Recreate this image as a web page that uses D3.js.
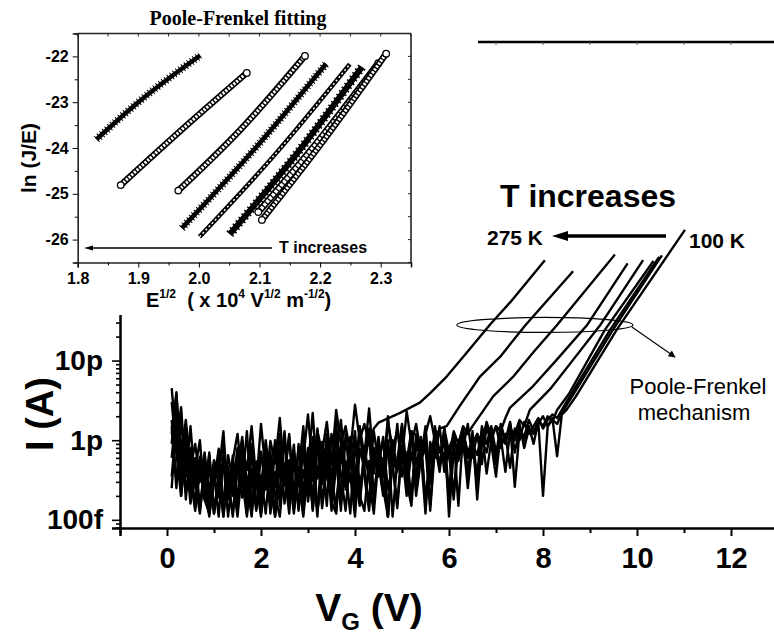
<!DOCTYPE html>
<html>
<head>
<meta charset="utf-8">
<script src="https://cdn.jsdelivr.net/npm/d3@7"></script>
<style>
  body { margin: 0; background: #fff; }
  svg { display: block; }
  .b { font-family: Arial, "Liberation Sans", sans-serif; font-weight: bold; }
</style>
</head>
<body>
<svg id="chart" width="774" height="639"></svg>
<script>
// ---- main plot: I(A) vs VG, noise part sampled every 0.1 V starting at 0.1 V (values in fA)
const vStart = 0.1, vStep = 0.1
const noise275 = [1200,3800,600,1800,450,900,300,700,220,560,380,1300,180,640,150,880,420,1500,300,720,240,980,510,1900,350,1100,200,820,600,2100,420,1300,700,1700,500,2400,900,1500,700,2800,1000,1600,900,1400]
const noise250 = [4500,900,2600,350,1500,250,620,180,480,120,390,900,210,560,1200,320,110,700,280,1600,400,140,850,350,1300,240,600,130,950,460,2200,330,780,150,1200,560,1800,380,900,260,1500,640,2500,480,1100,350,1700,800,1300,600,2300,900,1600,700,1200,2000,1000,1400]
const noise225 = [250,1800,320,700,200,450,130,380,160,300,600,110,420,250,800,190,350,110,520,240,1000,300,120,640,280,420,120,900,230,520,140,1400,300,700,130,480,850,260,1100,400,150,750,330,1300,500,200,900,420,1600,350,700,180,1200,550,950,300,1500,700,1100,600,1300,900,1500,1200]
const noise200 = [1800,300,1000,220,550,140,400,230,650,130,330,110,460,200,380,700,120,300,540,210,850,260,110,480,360,1200,160,420,120,600,310,900,140,460,250,1100,380,130,640,300,1400,450,160,800,350,600,110,1000,420,700,200,1300,500,900,180,650,1100,450,1400,700,220,1000,800,1600,600,1200,900,1700,1100,1500,1300,1900]
const noise175 = [600,2400,450,1300,280,170,500,260,110,350,190,600,240,120,420,1100,230,380,130,700,310,480,110,950,270,560,150,380,1500,200,620,130,440,900,300,1700,160,540,360,110,780,450,1200,200,600,350,2000,480,160,850,550,1300,250,700,120,950,600,1500,400,800,1100,150,1300,700,1000,350,1500,900,1200,650,1600,1000,1400,1200,1800,1500]
const noise150 = [3000,700,200,900,350,130,480,210,700,120,280,520,110,390,180,850,140,440,300,110,560,260,1000,150,400,120,680,330,180,800,130,470,280,1200,350,140,620,420,120,950,280,520,1400,170,700,380,1000,110,560,1600,420,200,900,650,1200,130,800,500,1100,700,180,950,1300,600,1000,250,1200,900,1500,700,1100,400,1300,1000,1600,800,1400,1200,1800,1500,2000,1700]
const noise125 = [900,4000,380,1500,250,600,150,420,120,300,780,170,350,110,600,270,1300,150,480,120,330,720,200,110,500,290,880,140,420,200,1100,130,380,600,170,120,750,320,480,1300,200,130,550,380,900,250,110,640,450,1500,220,700,350,1100,160,600,900,400,1400,110,750,550,1100,250,900,650,1300,380,1000,1500,800,1200,450,1400,1000,1700,1200,1500,1900,1400,1800,2100,1900]
const noise110 = [350,1600,200,700,160,420,1000,180,120,500,280,140,650,310,110,440,190,900,140,360,120,560,260,1200,160,420,130,330,700,170,500,110,950,360,200,580,130,1200,300,450,160,850,330,120,600,1000,240,480,140,800,420,1300,200,560,800,150,1000,480,700,200,1200,600,900,350,1300,180,1000,700,1400,500,1100,900,1600,260,1300,1000,1500,900,1700,200,1500,1800,1600]
const noise100 = [1500,250,2200,180,800,300,120,550,160,380,110,640,220,420,140,1000,300,120,500,180,780,120,400,220,1100,150,620,330,110,460,200,1300,160,520,380,130,870,240,600,170,1500,350,130,700,480,1100,110,550,400,1300,300,150,900,600,1500,280,800,500,1200,200,1000,700,1400,400,900,1200,500,1500,900,350,1300,1000,1700,700,1400,1100,1800,1300,1600,2000,1500,1900,630,2100]

// Poole-Frenkel branch of each curve: [VG (V), I (pA)]
const rise275 = [[4.5,1.66],[4.96,2.2],[5.38,2.96],[5.6,3.9],[5.95,6.3],[6.38,12.6],[6.87,28.2],[7.3,53.7],[8.04,182]]
const rise250 = [[5.95,1.5],[6.23,2.7],[6.66,6.3],[7.09,11.2],[7.62,27.5],[8.64,132]]
const rise225 = [[6.5,1.5],[6.94,3.55],[7.37,6.31],[7.79,12.6],[8.29,27.5],[9.53,214]]
const rise200 = [[7.3,2.57],[7.79,4.79],[8.29,10.2],[8.93,27.5],[9.8,166]]
const rise175 = [[7.72,2.4],[8.15,4.37],[8.64,10.2],[9.21,27.5],[10.13,182]]
const rise150 = [[8.3,2.4],[8.55,3.8],[9.32,24.5],[10.35,178]]
const rise125 = [[8.4,2.4],[8.6,3.8],[9.43,24.5],[10.47,200]]
const rise110 = [[8.4,2.2],[8.65,3.8],[9.49,24.5],[10.53,209]]
const rise100 = [[8.5,2.4],[8.7,3.55],[9.57,24.5],[11.02,437]]

const noiseSets = [noise275,noise250,noise225,noise200,noise175,noise150,noise125,noise110,noise100]
const riseSets = [rise275,rise250,rise225,rise200,rise175,rise150,rise125,rise110,rise100]

const xTicksMain = d3.range(-1, 14)
// only these decades are visible, the rest sits behind the inset
const yLabelsMain = {"-13":"100f","-12":"1p","-11":"10p"}

// ---- inset: Poole-Frenkel fitting, ln(J/E) vs E^1/2, knots
const pfX = [
  [1.831,1.9,2.002],
  [1.871,1.97,2.079],
  [1.966,2.07,2.175],
  [1.972,2.09,2.21],
  [2.001,2.125,2.249],
  [2.051,2.16,2.269],
  [2.098,2.2,2.296],
  [2.104,2.205,2.309]
]
const pfY = [
  [-23.81,-23.0,-21.98],
  [-24.81,-23.62,-22.36],
  [-24.93,-23.58,-21.99],
  [-25.75,-24.05,-22.16],
  [-25.94,-24.15,-22.17],
  [-25.88,-24.15,-22.23],
  [-25.4,-23.8,-22.15],
  [-25.57,-23.85,-21.94]
]
const pfMarker = ["star","circle","circle","star","small","triangle","square","circle"]

const svg = d3.select("#chart")

// ================= main plot =================
const x = d3.scaleLinear().domain([-1, 13]).range([120, 778])
const y = d3.scaleLog().domain([7.9e-14, 1e-7]).range([528, 42])

const line = d3.line().x(d => x(d[0])).y(d => y(d[1]))

const curves = noiseSets.map((n, k) => {
  let pts = n.map((fA, i) => [vStart + i*vStep, fA*1e-15])
  riseSets[k].forEach(d => pts.push([d[0], d[1]*1e-12]))
  return pts
})

svg.append("g").selectAll("path").data(curves).enter().append("path")
  .attr("d", line)
  .attr("fill", "none").attr("stroke", "#000").attr("stroke-width", 2.4)
  .attr("stroke-linejoin", "round")

// x axis
const gx = svg.append("g").attr("transform", `translate(0,${y.range()[0]})`)
  .call(d3.axisBottom(x).tickValues(xTicksMain).tickSizeOuter(0).tickSize(8).tickPadding(11)
    .tickFormat(d => (d >= 0 && d % 2 === 0) ? d : ""))
gx.select(".domain").attr("stroke-width", 2.5)
gx.selectAll(".tick line").attr("y2", d => d % 2 === 0 ? 8 : 5).attr("stroke-width", 2)
gx.selectAll("text").attr("class", "b").attr("font-size", 29).attr("fill", "#000")
gx.selectAll("text").filter(function() { return this.textContent === "" }).remove()

// y axis (log)
let yTicks = []
for (let e = -14; e <= -7; e++) for (let m = 1; m <= 9; m++) {
  const v = +(m + "e" + e)
  if (v >= y.domain()[0] && v <= y.domain()[1]) yTicks.push({v: v, m: m, e: e})
}
const gy = svg.append("g").attr("transform", `translate(${x.range()[0]},0)`)
  .call(d3.axisLeft(y).tickValues(yTicks.map(d => d.v)).tickSizeOuter(0).tickSize(8).tickPadding(9)
    .tickFormat((d, i) => (yTicks[i].m === 1 && yLabelsMain[yTicks[i].e]) || ""))
gy.select(".domain").attr("stroke-width", 2.5)
gy.selectAll(".tick line").attr("x2", (d, i) => yTicks[i].m === 1 ? -8 : -4).attr("stroke-width", 1.6)
gy.selectAll("text").attr("class", "b").attr("font-size", 28).attr("fill", "#000")
gy.selectAll("text").filter(function() { return this.textContent === "" }).remove()

// top frame with small inward ticks
svg.append("line").attr("x1", x.range()[0]).attr("x2", x.range()[1])
  .attr("y1", y.range()[1]).attr("y2", y.range()[1]).attr("stroke", "#000").attr("stroke-width", 2.5)
svg.append("g").selectAll("line").data(xTicksMain).enter().append("line")
  .attr("x1", d => x(d)).attr("x2", d => x(d)).attr("y1", y.range()[1]).attr("y2", y.range()[1] + 3)
  .attr("stroke", "#555").attr("stroke-width", 1)

// axis titles
svg.append("text").attr("class", "b").attr("font-size", 38)
  .attr("transform", "translate(53,414) rotate(-90)").attr("text-anchor", "middle").text("I (A)")
const vt = svg.append("text").attr("class", "b").attr("font-size", 39)
  .attr("x", 369).attr("y", 621).attr("text-anchor", "middle")
vt.append("tspan").text("V")
vt.append("tspan").attr("font-size", 24).attr("dy", 9).text("G")
vt.append("tspan").attr("dy", -9).text(" (V)")

// annotations
svg.append("ellipse").attr("cx", x(8.04)).attr("cy", y(2.8e-11))
  .attr("rx", 88).attr("ry", 7.5).attr("fill", "none").attr("stroke", "#000").attr("stroke-width", 1.2)
const defs = svg.append("defs")
defs.append("marker").attr("id", "thin").attr("viewBox", "0 0 10 10").attr("refX", 9).attr("refY", 5)
  .attr("markerWidth", 9).attr("markerHeight", 7).attr("markerUnits", "userSpaceOnUse").attr("orient", "auto")
  .append("path").attr("d", "M0,0 L10,5 L0,10 Z").attr("fill", "#000")
svg.append("line").attr("x1", x(8.04) + 87).attr("y1", y(2.8e-11) + 2).attr("x2", 675).attr("y2", 357)
  .attr("stroke", "#000").attr("stroke-width", 1.1).attr("marker-end", "url(#thin)")

svg.append("text").attr("font-family", "Arial, 'Liberation Sans', sans-serif").attr("font-size", 22)
  .attr("x", 698).attr("y", 394).attr("text-anchor", "middle").text("Poole-Frenkel")
svg.append("text").attr("font-family", "Arial, 'Liberation Sans', sans-serif").attr("font-size", 22)
  .attr("x", 694).attr("y", 420).attr("text-anchor", "middle").text("mechanism")

svg.append("text").attr("class", "b").attr("font-size", 32).attr("x", 588).attr("y", 207)
  .attr("text-anchor", "middle").text("T increases")
svg.append("text").attr("class", "b").attr("font-size", 21).attr("x", 487).attr("y", 245).text("275 K")
svg.append("text").attr("class", "b").attr("font-size", 21).attr("x", 689).attr("y", 248).text("100 K")
svg.append("line").attr("x1", 666).attr("x2", 562).attr("y1", 236).attr("y2", 236)
  .attr("stroke", "#000").attr("stroke-width", 3.5)
svg.append("path").attr("d", "M552,236 L568,231 L568,241 Z").attr("fill", "#000")

// ================= inset =================
svg.append("rect").attr("x", 0).attr("y", 0).attr("width", 478).attr("height", 315).attr("fill", "#fff")

const ix = d3.scaleLinear().domain([1.8, 2.35]).range([77.7, 411])
const iy = d3.scaleLinear().domain([-26.5, -21.5]).range([262.5, 33.5])

const ins = svg.append("g")
const pfLine = d3.line().x(d => ix(d[0])).y(d => iy(d[1])).curve(d3.curveMonotoneX)
const pfData = pfX.map((xs, k) => xs.map((v, i) => [v, pfY[k][i]]))

pfData.forEach((pts, k) => {
  const kind = pfMarker[k]
  const d = pfLine(pts)
  if (kind === "star") {
    ins.append("path").attr("d", d).attr("fill", "none").attr("stroke", "#000").attr("stroke-width", 4.5)
    ins.append("path").attr("d", d).attr("fill", "none").attr("stroke", "#000").attr("stroke-width", 8)
      .attr("stroke-dasharray", "1 2.5")
  } else if (kind === "triangle") {
    ins.append("path").attr("d", d).attr("fill", "none").attr("stroke", "#000").attr("stroke-width", 6)
    ins.append("path").attr("d", d).attr("fill", "none").attr("stroke", "#000").attr("stroke-width", 9)
      .attr("stroke-dasharray", "1.5 3")
  } else if (kind === "small") {
    ins.append("path").attr("d", d).attr("fill", "none").attr("stroke", "#000").attr("stroke-width", 4.5)
    ins.append("path").attr("d", d).attr("fill", "none").attr("stroke", "#fff").attr("stroke-width", 1.5)
      .attr("stroke-dasharray", "2 2.5")
  } else {
    const w = kind === "square" ? 7 : 6.5
    ins.append("path").attr("d", d).attr("fill", "none").attr("stroke", "#000").attr("stroke-width", w)
    ins.append("path").attr("d", d).attr("fill", "none").attr("stroke", "#fff").attr("stroke-width", w - 3.4)
      .attr("stroke-dasharray", kind === "square" ? "3 1.3" : "2.2 1.4")
    const e = pts[pts.length - 1], s = pts[0]
    ins.selectAll(null).data([s, e]).enter().append("circle")
      .attr("cx", p => ix(p[0])).attr("cy", p => iy(p[1])).attr("r", 3.3)
      .attr("fill", "#fff").attr("stroke", "#000").attr("stroke-width", 1.3)
  }
})

// inset axes
const ixTicks = d3.range(0, 12).map(i => +(1.8 + i*0.05).toFixed(2))
const iyTicks = d3.range(0, 11).map(i => -26.5 + i*0.5)
const gix = ins.append("g").attr("transform", `translate(0,${iy.range()[0]})`)
  .call(d3.axisBottom(ix).tickValues(ixTicks).tickSizeOuter(0).tickSize(5).tickPadding(5)
    .tickFormat((d, i) => i % 2 === 0 ? d.toFixed(1) : ""))
gix.selectAll(".tick line").attr("y2", (d, i) => i % 2 === 0 ? 5 : 3)
gix.selectAll("text").attr("class", "b").attr("font-size", 16).attr("fill", "#000")
gix.selectAll("text").filter(function() { return this.textContent === "" }).remove()
const giy = ins.append("g").attr("transform", `translate(${ix.range()[0]},0)`)
  .call(d3.axisLeft(iy).tickValues(iyTicks).tickSizeOuter(0).tickSize(5).tickPadding(4)
    .tickFormat(d => (Number.isInteger(d) && d <= -22 && d >= -26) ? d : ""))
giy.selectAll(".tick line").attr("x2", d => Number.isInteger(d) ? -5 : -3)
giy.selectAll("text").attr("class", "b").attr("font-size", 16).attr("fill", "#000")
giy.selectAll("text").filter(function() { return this.textContent === "" }).remove()
ins.selectAll(".domain").attr("stroke", "#222").attr("stroke-width", 1.6)

ins.append("line").attr("x1", ix.range()[0]).attr("x2", ix.range()[1]).attr("y1", iy.range()[1]).attr("y2", iy.range()[1])
  .attr("stroke", "#222").attr("stroke-width", 1.6)
ins.append("line").attr("x1", ix.range()[1]).attr("x2", ix.range()[1]).attr("y1", iy.range()[0]).attr("y2", iy.range()[1])
  .attr("stroke", "#222").attr("stroke-width", 1.6)
ins.append("g").selectAll("line").data(ixTicks).enter().append("line")
  .attr("x1", d => ix(d)).attr("x2", d => ix(d)).attr("y1", iy.range()[1]).attr("y2", iy.range()[1] + 3)
  .attr("stroke", "#222")
ins.append("g").selectAll("line").data(iyTicks).enter().append("line")
  .attr("x1", ix.range()[1]).attr("x2", ix.range()[1] - 3).attr("y1", d => iy(d)).attr("y2", d => iy(d))
  .attr("stroke", "#222")

ins.append("text").attr("font-family", "'Times New Roman', 'Liberation Serif', serif").attr("font-weight", "bold")
  .attr("font-size", 20).attr("x", 238).attr("y", 25).attr("text-anchor", "middle").text("Poole-Frenkel fitting")
ins.append("text").attr("class", "b").attr("font-size", 21)
  .attr("transform", "translate(36,158) rotate(-90)").attr("text-anchor", "middle").text("ln (J/E)")

const xl = ins.append("text").attr("class", "b").attr("font-size", 20).attr("x", 146).attr("y", 307)
xl.append("tspan").text("E")
xl.append("tspan").attr("font-size", 12).attr("dy", -9).text("1/2")
xl.append("tspan").attr("dy", 9).text("\u00a0\u00a0( x 10")
xl.append("tspan").attr("font-size", 12).attr("dy", -9).text("4")
xl.append("tspan").attr("dy", 9).text("\u00a0V")
xl.append("tspan").attr("font-size", 12).attr("dy", -9).text("1/2")
xl.append("tspan").attr("dy", 9).text("\u00a0m")
xl.append("tspan").attr("font-size", 12).attr("dy", -9).text("-1/2")
xl.append("tspan").attr("dy", 9).text(")")

ins.append("text").attr("class", "b").attr("font-size", 16).attr("x", 279).attr("y", 253).text("T increases")
ins.append("line").attr("x1", 272).attr("x2", 92).attr("y1", 248).attr("y2", 248).attr("stroke", "#000").attr("stroke-width", 1.5)
ins.append("path").attr("d", "M84,248 L93,245.5 L93,250.5 Z").attr("fill", "#000")
</script>
</body>
</html>
